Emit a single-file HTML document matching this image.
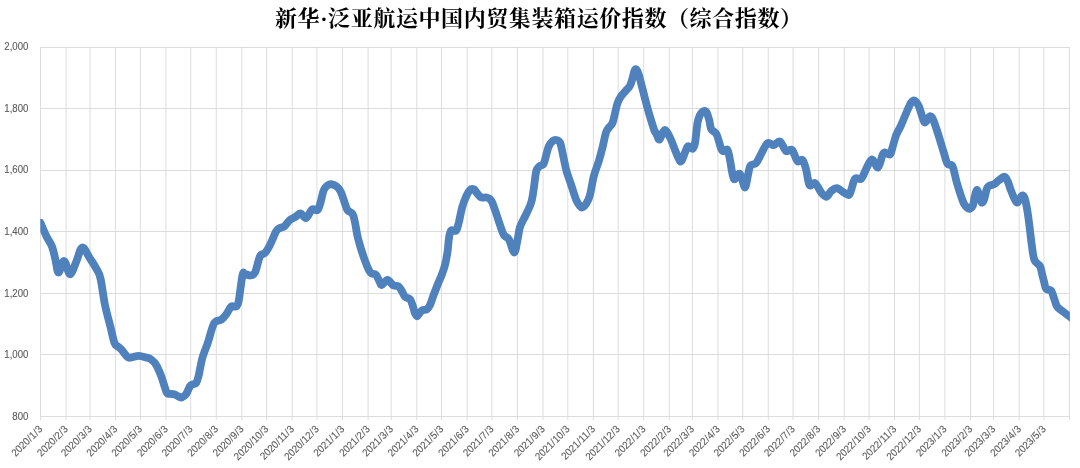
<!DOCTYPE html>
<html><head><meta charset="utf-8"><title>chart</title>
<style>
html,body{margin:0;padding:0;background:#fff;}
body{width:1080px;height:468px;position:relative;overflow:hidden;font-family:"Liberation Sans",sans-serif;}
</style></head><body>
<svg width="1080" height="468" viewBox="0 0 1080 468" style="position:absolute;left:0;top:0;will-change:transform">
<defs><clipPath id="pc"><rect x="40.30" y="0" width="1029.60" height="468"/></clipPath></defs>
<path d="M40.00 47.50H1070.00M40.00 108.50H1070.00M40.00 170.50H1070.00M40.00 231.50H1070.00M40.00 293.50H1070.00M40.00 354.50H1070.00M40.00 416.50H1070.00M40.50 47.50V420.00M66.08 47.50V420.00M90.01 47.50V420.00M115.59 47.50V420.00M140.35 47.50V420.00M165.93 47.50V420.00M190.68 47.50V420.00M216.26 47.50V420.00M241.84 47.50V420.00M266.60 47.50V420.00M292.18 47.50V420.00M316.94 47.50V420.00M342.52 47.50V420.00M368.10 47.50V420.00M391.20 47.50V420.00M416.78 47.50V420.00M441.54 47.50V420.00M467.12 47.50V420.00M491.87 47.50V420.00M517.45 47.50V420.00M543.03 47.50V420.00M567.79 47.50V420.00M593.37 47.50V420.00M618.13 47.50V420.00M643.71 47.50V420.00M669.29 47.50V420.00M692.39 47.50V420.00M717.97 47.50V420.00M742.73 47.50V420.00M768.31 47.50V420.00M793.06 47.50V420.00M818.65 47.50V420.00M844.23 47.50V420.00M868.98 47.50V420.00M894.56 47.50V420.00M919.32 47.50V420.00M944.90 47.50V420.00M970.48 47.50V420.00M993.58 47.50V420.00M1019.16 47.50V420.00M1043.92 47.50V420.00M1069.50 47.50V420.00" stroke="#dcdcdc" stroke-width="1" fill="none"/>
<path d="M40.5 222.9C41.5 225.2 44.6 232.6 46.5 236.5C48.4 240.4 50.5 242.6 52.0 246.5C53.5 250.4 54.4 255.7 55.5 260.0C56.6 264.3 57.0 272.3 58.5 272.5C60.0 272.7 62.3 260.7 64.2 261.0C66.1 261.3 68.0 274.3 70.0 274.3C72.0 274.3 74.5 265.5 76.5 261.0C78.5 256.5 80.0 247.9 82.3 247.5C84.5 247.1 87.6 254.9 90.0 258.5C92.4 262.1 94.8 265.7 96.5 269.0C98.2 272.3 99.1 272.5 100.5 278.5C101.9 284.5 103.3 296.9 105.0 305.0C106.7 313.1 108.9 320.7 110.5 327.0C112.1 333.3 113.2 339.7 114.5 343.0C115.8 346.3 116.8 345.6 118.0 346.7C119.2 347.8 119.9 348.0 121.5 349.7C123.1 351.4 125.9 355.7 127.5 357.0C129.1 358.3 129.4 357.7 131.2 357.5C133.1 357.3 136.2 355.8 138.8 355.8C141.2 355.8 144.2 356.9 146.2 357.5C148.3 358.1 149.6 358.2 151.2 359.5C152.9 360.8 154.6 362.2 156.2 365.0C157.9 367.8 159.5 371.8 161.2 376.2C163.0 380.8 165.1 389.1 166.5 392.0C167.9 394.9 168.2 393.4 169.5 393.8C170.8 394.2 172.5 393.8 174.0 394.2C175.5 394.6 177.2 396.0 178.5 396.5C179.8 397.0 180.6 397.8 181.8 397.4C183.1 397.0 184.6 396.2 186.0 394.3C187.4 392.4 188.9 387.9 190.0 386.2C191.1 384.6 191.5 385.0 192.5 384.5C193.5 384.0 195.2 384.6 196.2 383.0C197.3 381.4 197.7 379.2 198.8 375.0C199.8 370.8 201.0 362.7 202.5 357.5C204.0 352.3 206.0 348.1 207.5 343.8C209.0 339.4 210.2 334.6 211.2 331.2C212.3 327.9 212.9 325.4 213.8 323.8C214.6 322.1 215.0 322.0 216.2 321.2C217.5 320.5 219.8 320.7 221.5 319.5C223.2 318.3 224.9 316.2 226.5 314.0C228.1 311.8 229.6 307.8 231.2 306.5C232.9 305.2 235.0 307.5 236.2 306.5C237.5 305.5 237.7 305.8 238.8 300.5C239.8 295.2 241.5 279.5 242.5 275.0C243.5 270.5 243.8 273.7 245.0 273.8C246.2 273.8 248.3 275.7 250.0 275.5C251.7 275.3 253.3 275.7 255.0 272.5C256.7 269.3 258.3 259.5 260.0 256.2C261.7 253.0 263.3 254.9 265.0 253.0C266.7 251.1 268.1 248.6 270.0 245.0C271.9 241.4 274.6 234.1 276.2 231.2C277.9 228.4 278.6 228.8 280.0 228.0C281.4 227.2 282.9 227.6 284.5 226.3C286.1 225.0 287.8 221.8 289.5 220.3C291.2 218.8 293.2 218.3 295.0 217.2C296.8 216.1 298.6 213.4 300.5 213.5C302.4 213.6 304.3 218.7 306.2 218.0C308.2 217.3 310.1 210.8 312.0 209.5C313.9 208.2 316.1 211.2 317.5 210.0C318.9 208.8 319.5 205.8 320.5 202.5C321.5 199.2 322.6 192.8 323.8 190.0C324.9 187.2 326.2 186.5 327.5 185.5C328.8 184.5 329.8 184.1 331.2 184.2C332.7 184.4 334.7 185.1 336.2 186.2C337.8 187.4 339.2 189.0 340.5 191.2C341.8 193.5 342.6 196.9 343.8 200.0C344.9 203.1 346.0 207.7 347.5 210.0C349.0 212.3 351.2 211.7 352.5 213.8C353.8 215.8 354.2 218.8 355.0 222.5C355.8 226.2 356.5 231.8 357.5 236.2C358.5 240.8 360.0 245.4 361.2 249.5C362.5 253.6 363.7 257.2 365.0 260.8C366.3 264.4 368.1 268.7 369.2 270.8C370.3 272.9 370.6 273.1 371.7 273.7C372.8 274.3 374.6 273.5 375.8 274.7C377.1 275.9 378.2 279.1 379.2 280.8C380.2 282.5 380.3 285.1 381.7 285.0C383.1 284.9 385.6 279.9 387.5 280.0C389.4 280.1 391.5 284.2 393.3 285.3C395.1 286.4 396.9 285.4 398.3 286.3C399.7 287.2 400.6 289.1 401.7 290.8C402.8 292.5 403.6 295.3 405.0 296.7C406.4 298.1 408.8 297.8 410.0 299.2C411.2 300.6 411.7 302.6 412.5 305.0C413.3 307.4 414.2 311.4 415.0 313.3C415.8 315.2 416.4 316.4 417.2 316.3C418.0 316.2 419.1 313.6 420.0 312.5C420.9 311.4 421.4 310.5 422.5 310.0C423.6 309.5 425.4 310.3 426.7 309.5C427.9 308.7 428.9 307.3 430.0 305.0C431.1 302.7 432.1 299.1 433.3 295.8C434.6 292.5 436.1 288.5 437.5 285.0C438.9 281.5 440.4 278.3 441.7 275.0C442.9 271.7 444.0 268.8 445.0 265.0C446.0 261.2 446.8 256.5 447.5 252.0C448.2 247.5 448.4 241.6 449.0 238.0C449.6 234.4 450.0 231.8 451.2 230.5C452.5 229.2 455.0 231.8 456.2 230.5C457.5 229.2 457.7 226.5 458.8 222.5C459.8 218.5 461.2 210.6 462.5 206.2C463.8 201.9 465.0 199.0 466.2 196.2C467.5 193.5 468.8 191.2 470.0 190.0C471.2 188.8 472.5 188.6 473.8 189.2C475.0 189.9 476.2 192.4 477.5 193.8C478.8 195.1 479.8 196.9 481.2 197.5C482.7 198.1 484.6 197.0 486.2 197.5C487.9 198.0 489.8 198.4 491.2 200.5C492.7 202.6 493.5 205.9 495.0 210.0C496.5 214.1 498.5 220.8 500.0 225.0C501.5 229.2 502.3 232.6 503.8 235.0C505.2 237.4 507.0 236.3 508.8 239.2C510.5 242.2 512.8 252.4 514.2 252.5C515.7 252.6 516.5 244.2 517.5 240.0C518.5 235.8 518.7 231.1 520.0 227.0C521.3 222.9 523.6 219.6 525.5 215.5C527.4 211.4 529.8 207.2 531.2 202.5C532.7 197.8 533.2 192.2 534.0 187.0C534.8 181.8 535.3 174.7 536.2 171.2C537.2 167.8 538.3 167.5 539.5 166.2C540.7 165.0 542.4 165.9 543.5 164.0C544.6 162.1 545.4 158.0 546.2 155.0C547.1 152.0 547.7 148.5 548.8 146.2C549.8 144.0 551.2 142.3 552.5 141.2C553.8 140.2 555.0 139.8 556.2 140.0C557.5 140.2 559.0 140.4 560.0 142.5C561.0 144.6 561.5 147.9 562.5 152.5C563.5 157.1 564.8 164.6 566.2 170.0C567.7 175.4 569.6 180.0 571.2 185.0C572.9 190.0 574.8 196.5 576.2 200.0C577.7 203.5 579.0 205.0 580.0 206.2C581.0 207.5 581.5 207.9 582.5 207.5C583.5 207.1 585.0 205.8 586.2 203.8C587.5 201.7 588.8 199.6 590.0 195.0C591.2 190.4 592.3 181.9 593.8 176.2C595.2 170.6 597.3 166.0 598.8 161.2C600.2 156.5 601.3 152.3 602.5 147.5C603.7 142.7 604.9 135.8 606.0 132.5C607.1 129.2 607.9 129.1 609.0 127.5C610.1 125.9 611.5 125.4 612.5 123.0C613.5 120.6 614.2 116.6 615.0 113.3C615.8 110.0 616.5 106.1 617.5 103.3C618.5 100.5 619.4 98.8 620.8 96.7C622.2 94.6 624.3 92.6 625.8 90.8C627.3 89.0 628.9 87.9 630.0 85.8C631.1 83.7 631.8 80.6 632.5 78.3C633.2 76.0 633.7 73.2 634.2 71.7C634.8 70.2 635.1 68.9 635.8 69.2C636.5 69.5 637.3 70.5 638.3 73.3C639.3 76.1 640.5 81.1 641.7 85.8C643.0 90.5 644.4 96.5 645.8 101.7C647.2 106.9 648.6 112.0 650.0 116.7C651.4 121.4 653.1 127.1 654.2 130.0C655.3 132.9 655.6 132.4 656.5 134.0C657.4 135.6 658.2 140.2 659.5 139.5C660.8 138.8 662.8 130.3 664.5 130.0C666.2 129.7 668.2 134.2 670.0 137.5C671.8 140.8 673.5 146.5 675.0 150.0C676.5 153.5 677.7 156.9 678.8 158.8C679.8 160.6 680.2 162.3 681.2 161.2C682.3 160.2 683.9 155.0 685.0 152.5C686.1 150.0 686.8 146.9 688.0 146.2C689.2 145.6 691.3 149.3 692.5 148.8C693.7 148.2 694.2 147.3 695.0 143.0C695.8 138.7 696.7 127.7 697.5 123.0C698.3 118.3 699.2 116.9 700.0 115.0C700.8 113.1 701.7 112.4 702.5 111.7C703.3 111.0 704.0 110.7 704.7 110.8C705.4 110.9 706.0 111.0 706.7 112.5C707.5 114.0 708.4 117.2 709.2 120.0C710.0 122.8 710.1 127.0 711.3 129.3C712.5 131.6 714.7 130.8 716.4 134.0C718.1 137.2 720.0 145.9 721.2 148.8C722.5 151.6 722.7 151.0 723.8 151.2C724.8 151.5 726.5 148.5 727.5 150.0C728.5 151.5 729.0 155.2 730.0 160.0C731.0 164.8 732.3 176.5 733.8 178.8C735.2 181.0 737.5 174.2 738.8 173.8C740.0 173.3 740.2 174.0 741.2 176.2C742.3 178.5 743.9 187.7 745.0 187.5C746.1 187.3 747.1 178.7 748.0 175.0C748.9 171.3 749.1 167.5 750.5 165.5C751.9 163.5 754.5 165.0 756.2 163.0C758.0 161.0 759.4 157.0 761.2 153.8C763.1 150.5 765.4 144.7 767.5 143.2C769.6 141.8 771.7 145.5 773.8 145.2C775.8 144.9 778.0 140.5 780.0 141.5C782.0 142.5 784.0 149.6 786.0 151.0C788.0 152.4 790.1 148.3 792.0 150.0C793.9 151.7 795.8 159.6 797.5 161.2C799.2 162.9 801.0 158.5 802.5 160.0C804.0 161.5 805.1 165.8 806.2 170.0C807.4 174.2 808.0 182.8 809.5 185.0C811.0 187.2 813.0 181.8 815.0 183.0C817.0 184.2 819.4 190.2 821.2 192.5C823.1 194.8 824.6 197.0 826.2 196.8C827.9 196.5 829.5 192.7 831.2 191.2C833.0 189.8 834.9 188.0 837.0 188.2C839.1 188.5 841.8 191.4 843.8 192.5C845.7 193.6 847.5 195.4 848.8 195.0C850.0 194.6 850.2 192.7 851.2 190.0C852.3 187.3 853.3 180.6 855.0 178.8C856.7 176.9 859.4 180.4 861.2 178.8C863.1 177.1 864.5 172.0 866.2 168.8C868.0 165.5 870.0 159.7 872.0 159.5C874.0 159.3 876.2 168.2 878.0 167.5C879.8 166.8 881.3 157.5 882.5 155.0C883.7 152.5 883.8 152.6 885.0 152.5C886.2 152.4 888.8 155.3 890.0 154.5C891.2 153.7 891.5 150.8 892.5 147.5C893.5 144.2 894.8 138.8 896.2 135.0C897.7 131.2 899.4 129.2 901.2 125.0C903.1 120.8 905.8 113.8 907.5 110.0C909.2 106.2 910.1 104.1 911.2 102.5C912.4 100.9 913.2 99.9 914.5 100.5C915.8 101.1 917.4 103.4 918.8 106.2C920.1 109.1 921.5 114.8 922.5 117.5C923.5 120.2 923.8 122.7 925.0 122.5C926.2 122.3 928.5 116.5 930.0 116.2C931.5 116.0 932.3 117.9 933.8 121.2C935.2 124.6 937.1 131.0 938.8 136.2C940.4 141.5 942.3 147.9 943.8 152.5C945.2 157.1 946.0 161.5 947.5 163.8C949.0 166.0 951.0 163.3 952.5 166.2C954.0 169.2 955.1 176.5 956.5 181.5C957.9 186.5 959.7 192.2 961.0 196.0C962.3 199.8 963.1 202.2 964.2 204.2C965.3 206.2 966.5 207.2 967.5 208.0C968.5 208.8 969.1 209.1 970.0 208.7C970.9 208.3 972.0 207.8 972.8 205.8C973.6 203.8 974.1 199.3 974.7 196.7C975.4 194.1 976.0 190.3 976.7 190.0C977.5 189.7 978.4 192.9 979.2 195.0C980.0 197.1 980.9 201.8 981.7 202.5C982.5 203.2 983.4 201.4 984.2 199.2C985.0 197.0 985.9 191.4 986.7 189.2C987.5 187.0 988.0 186.6 989.2 185.8C990.5 185.0 992.5 185.2 994.2 184.2C995.9 183.2 997.5 181.2 999.2 180.0C1000.9 178.8 1002.8 176.6 1004.2 176.7C1005.6 176.8 1006.4 178.6 1007.5 180.8C1008.6 183.0 1009.5 186.8 1010.8 190.0C1012.0 193.2 1013.9 197.9 1015.0 200.0C1016.1 202.1 1016.7 202.8 1017.5 202.5C1018.3 202.2 1019.2 199.5 1020.0 198.3C1020.8 197.1 1021.7 195.2 1022.5 195.3C1023.3 195.5 1024.2 196.5 1025.0 199.2C1025.8 201.9 1026.7 206.9 1027.5 211.7C1028.3 216.5 1029.0 222.6 1029.7 228.0C1030.4 233.4 1030.9 239.1 1031.7 244.4C1032.5 249.7 1033.0 256.4 1034.4 260.0C1035.8 263.6 1038.7 263.7 1040.0 266.1C1041.3 268.5 1041.5 271.8 1042.2 274.4C1042.9 277.0 1043.3 279.1 1044.0 281.5C1044.7 283.9 1044.9 287.4 1046.1 288.9C1047.3 290.4 1049.8 289.1 1051.1 290.6C1052.4 292.1 1052.9 295.1 1053.9 297.8C1054.9 300.5 1055.6 304.4 1057.2 306.7C1058.8 309.0 1061.2 310.0 1063.3 311.7C1065.4 313.4 1068.3 315.6 1069.8 316.7C1071.2 317.8 1071.6 318.1 1072.0 318.4" clip-path="url(#pc)" stroke="#4f81bd" stroke-width="7.8" fill="none" stroke-linejoin="round" stroke-linecap="round"/>
<text x="275" y="26" font-family="'Liberation Serif', 'Noto Serif CJK SC', serif" font-size="22" font-weight="bold" fill="#000" textLength="527" lengthAdjust="spacing">新华·泛亚航运中国内贸集装箱运价指数（综合指数）</text>
<g font-family="Liberation Sans, sans-serif" font-size="10.5" fill="#595959" stroke="#595959" stroke-width="0.12">
<text transform="translate(28.4 50.00) scale(0.916 1)" text-anchor="end" dx="0 0 0 0 0">2,000</text>
<text transform="translate(28.4 111.65) scale(0.916 1)" text-anchor="end" dx="0 0 0 0 0">1,800</text>
<text transform="translate(28.4 173.30) scale(0.916 1)" text-anchor="end" dx="0 0 0 0 0">1,600</text>
<text transform="translate(28.4 234.95) scale(0.916 1)" text-anchor="end" dx="0 0 0 0 0">1,400</text>
<text transform="translate(28.4 296.60) scale(0.916 1)" text-anchor="end" dx="0 0 0 0 0">1,200</text>
<text transform="translate(28.4 358.25) scale(0.916 1)" text-anchor="end" dx="0 0 0 0 0">1,000</text>
<text transform="translate(28.4 419.90) scale(0.916 1)" text-anchor="end" dx="0 0 0">800</text>
<text transform="translate(43.00 429.8) rotate(-45) scale(0.916 1)" text-anchor="end" dx="0 0 0 0 0.3 0.3 0.3 0.3">2020/1/3</text>
<text transform="translate(68.58 429.8) rotate(-45) scale(0.916 1)" text-anchor="end" dx="0 0 0 0 0.3 0.3 0.3 0.3">2020/2/3</text>
<text transform="translate(92.51 429.8) rotate(-45) scale(0.916 1)" text-anchor="end" dx="0 0 0 0 0.3 0.3 0.3 0.3">2020/3/3</text>
<text transform="translate(118.09 429.8) rotate(-45) scale(0.916 1)" text-anchor="end" dx="0 0 0 0 0.3 0.3 0.3 0.3">2020/4/3</text>
<text transform="translate(142.85 429.8) rotate(-45) scale(0.916 1)" text-anchor="end" dx="0 0 0 0 0.3 0.3 0.3 0.3">2020/5/3</text>
<text transform="translate(168.43 429.8) rotate(-45) scale(0.916 1)" text-anchor="end" dx="0 0 0 0 0.3 0.3 0.3 0.3">2020/6/3</text>
<text transform="translate(193.18 429.8) rotate(-45) scale(0.916 1)" text-anchor="end" dx="0 0 0 0 0.3 0.3 0.3 0.3">2020/7/3</text>
<text transform="translate(218.76 429.8) rotate(-45) scale(0.916 1)" text-anchor="end" dx="0 0 0 0 0.3 0.3 0.3 0.3">2020/8/3</text>
<text transform="translate(244.34 429.8) rotate(-45) scale(0.916 1)" text-anchor="end" dx="0 0 0 0 0.3 0.3 0.3 0.3">2020/9/3</text>
<text transform="translate(269.10 429.8) rotate(-45) scale(0.916 1)" text-anchor="end" dx="0 0 0 0 0.3 0.3 0 0.3 0.3">2020/10/3</text>
<text transform="translate(294.68 429.8) rotate(-45) scale(0.916 1)" text-anchor="end" dx="0 0 0 0 0.3 0.3 0 0.3 0.3">2020/11/3</text>
<text transform="translate(319.44 429.8) rotate(-45) scale(0.916 1)" text-anchor="end" dx="0 0 0 0 0.3 0.3 0 0.3 0.3">2020/12/3</text>
<text transform="translate(345.02 429.8) rotate(-45) scale(0.916 1)" text-anchor="end" dx="0 0 0 0 0.3 0.3 0.3 0.3">2021/1/3</text>
<text transform="translate(370.60 429.8) rotate(-45) scale(0.916 1)" text-anchor="end" dx="0 0 0 0 0.3 0.3 0.3 0.3">2021/2/3</text>
<text transform="translate(393.70 429.8) rotate(-45) scale(0.916 1)" text-anchor="end" dx="0 0 0 0 0.3 0.3 0.3 0.3">2021/3/3</text>
<text transform="translate(419.28 429.8) rotate(-45) scale(0.916 1)" text-anchor="end" dx="0 0 0 0 0.3 0.3 0.3 0.3">2021/4/3</text>
<text transform="translate(444.04 429.8) rotate(-45) scale(0.916 1)" text-anchor="end" dx="0 0 0 0 0.3 0.3 0.3 0.3">2021/5/3</text>
<text transform="translate(469.62 429.8) rotate(-45) scale(0.916 1)" text-anchor="end" dx="0 0 0 0 0.3 0.3 0.3 0.3">2021/6/3</text>
<text transform="translate(494.37 429.8) rotate(-45) scale(0.916 1)" text-anchor="end" dx="0 0 0 0 0.3 0.3 0.3 0.3">2021/7/3</text>
<text transform="translate(519.95 429.8) rotate(-45) scale(0.916 1)" text-anchor="end" dx="0 0 0 0 0.3 0.3 0.3 0.3">2021/8/3</text>
<text transform="translate(545.53 429.8) rotate(-45) scale(0.916 1)" text-anchor="end" dx="0 0 0 0 0.3 0.3 0.3 0.3">2021/9/3</text>
<text transform="translate(570.29 429.8) rotate(-45) scale(0.916 1)" text-anchor="end" dx="0 0 0 0 0.3 0.3 0 0.3 0.3">2021/10/3</text>
<text transform="translate(595.87 429.8) rotate(-45) scale(0.916 1)" text-anchor="end" dx="0 0 0 0 0.3 0.3 0 0.3 0.3">2021/11/3</text>
<text transform="translate(620.63 429.8) rotate(-45) scale(0.916 1)" text-anchor="end" dx="0 0 0 0 0.3 0.3 0 0.3 0.3">2021/12/3</text>
<text transform="translate(646.21 429.8) rotate(-45) scale(0.916 1)" text-anchor="end" dx="0 0 0 0 0.3 0.3 0.3 0.3">2022/1/3</text>
<text transform="translate(671.79 429.8) rotate(-45) scale(0.916 1)" text-anchor="end" dx="0 0 0 0 0.3 0.3 0.3 0.3">2022/2/3</text>
<text transform="translate(694.89 429.8) rotate(-45) scale(0.916 1)" text-anchor="end" dx="0 0 0 0 0.3 0.3 0.3 0.3">2022/3/3</text>
<text transform="translate(720.47 429.8) rotate(-45) scale(0.916 1)" text-anchor="end" dx="0 0 0 0 0.3 0.3 0.3 0.3">2022/4/3</text>
<text transform="translate(745.23 429.8) rotate(-45) scale(0.916 1)" text-anchor="end" dx="0 0 0 0 0.3 0.3 0.3 0.3">2022/5/3</text>
<text transform="translate(770.81 429.8) rotate(-45) scale(0.916 1)" text-anchor="end" dx="0 0 0 0 0.3 0.3 0.3 0.3">2022/6/3</text>
<text transform="translate(795.56 429.8) rotate(-45) scale(0.916 1)" text-anchor="end" dx="0 0 0 0 0.3 0.3 0.3 0.3">2022/7/3</text>
<text transform="translate(821.15 429.8) rotate(-45) scale(0.916 1)" text-anchor="end" dx="0 0 0 0 0.3 0.3 0.3 0.3">2022/8/3</text>
<text transform="translate(846.73 429.8) rotate(-45) scale(0.916 1)" text-anchor="end" dx="0 0 0 0 0.3 0.3 0.3 0.3">2022/9/3</text>
<text transform="translate(871.48 429.8) rotate(-45) scale(0.916 1)" text-anchor="end" dx="0 0 0 0 0.3 0.3 0 0.3 0.3">2022/10/3</text>
<text transform="translate(897.06 429.8) rotate(-45) scale(0.916 1)" text-anchor="end" dx="0 0 0 0 0.3 0.3 0 0.3 0.3">2022/11/3</text>
<text transform="translate(921.82 429.8) rotate(-45) scale(0.916 1)" text-anchor="end" dx="0 0 0 0 0.3 0.3 0 0.3 0.3">2022/12/3</text>
<text transform="translate(947.40 429.8) rotate(-45) scale(0.916 1)" text-anchor="end" dx="0 0 0 0 0.3 0.3 0.3 0.3">2023/1/3</text>
<text transform="translate(972.98 429.8) rotate(-45) scale(0.916 1)" text-anchor="end" dx="0 0 0 0 0.3 0.3 0.3 0.3">2023/2/3</text>
<text transform="translate(996.08 429.8) rotate(-45) scale(0.916 1)" text-anchor="end" dx="0 0 0 0 0.3 0.3 0.3 0.3">2023/3/3</text>
<text transform="translate(1021.66 429.8) rotate(-45) scale(0.916 1)" text-anchor="end" dx="0 0 0 0 0.3 0.3 0.3 0.3">2023/4/3</text>
<text transform="translate(1046.42 429.8) rotate(-45) scale(0.916 1)" text-anchor="end" dx="0 0 0 0 0.3 0.3 0.3 0.3">2023/5/3</text>
</g>
</svg>
</body></html>
